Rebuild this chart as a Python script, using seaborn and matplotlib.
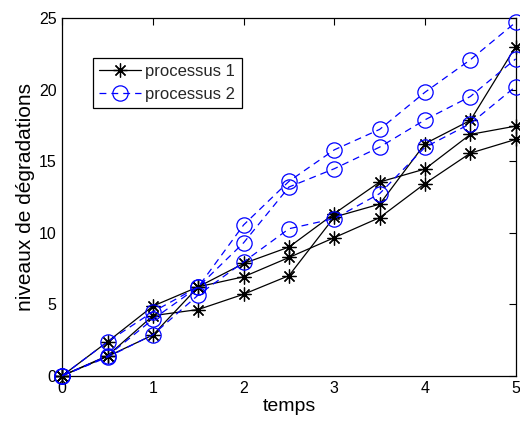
import numpy as np
import pandas as pd
import matplotlib
matplotlib.use("Agg")
import matplotlib.pyplot as plt
import seaborn as sns
from matplotlib.lines import Line2D

# ---- data ----
temps = [0, 0.5, 1, 1.5, 2, 2.5, 3, 3.5, 4, 4.5, 5]

proc1_a = [0, 1.40, 4.20, 4.63, 5.70, 7.00, 11.10, 12.00, 16.23, 17.86, 23.02]
proc1_b = [0, 2.38, 4.87, 6.22, 7.85, 9.00, 11.34, 13.55, 14.46, 16.88, 17.46]
proc1_c = [0, 1.35, 2.85, 6.22, 6.92, 8.27, 9.66, 11.06, 13.44, 15.57, 16.53]

proc2_a = [0, 2.38, 4.47, 6.22, 10.55, 13.60, 15.80, 17.23, 19.83, 22.10, 24.72]
proc2_b = [0, 1.38, 3.95, 6.22, 9.30, 13.20, 14.48, 15.99, 17.90, 19.53, 22.16]
proc2_c = [0, 1.30, 2.87, 5.65, 7.96, 10.28, 10.99, 12.74, 15.98, 17.63, 20.23]

series_names = ["processus 1", "processus 2"]
xticks = [0, 1, 2, 3, 4, 5]
yticks = [0, 5, 10, 15, 20, 25]

sns.set_theme(style="white")
plt.rcParams['font.family'] = ['Liberation Sans', 'DejaVu Sans']

fig = plt.figure(figsize=(5.2, 4.21), dpi=100)
ax = fig.add_axes([0.1198, 0.1076, 0.8719, 0.8489])

star = (8, 2, 0)
blue = (0, 0, 1)

p1_style = dict(color="black", marker=star, markersize=10, markeredgewidth=0.9,
                markeredgecolor="black", linewidth=0.9, linestyle="-")
p2_style = dict(color=blue, marker="o", markersize=11, markerfacecolor="none",
                markeredgecolor=blue, markeredgewidth=0.9, linewidth=0.9,
                linestyle=(0, (5.5, 4.0)))

for ys in [proc1_a, proc1_b, proc1_c]:
    df = pd.DataFrame({"t": temps, "v": ys})
    sns.lineplot(data=df, x="t", y="v", ax=ax, sort=False, legend=False,
                 clip_on=False, zorder=3, **p1_style)
for ys in [proc2_a, proc2_b, proc2_c]:
    df = pd.DataFrame({"t": temps, "v": ys})
    sns.lineplot(data=df, x="t", y="v", ax=ax, sort=False, legend=False,
                 clip_on=False, zorder=3, **p2_style)

ax.set_xlim(0, 5)
ax.set_ylim(0, 25)
ax.set_xticks(xticks)
ax.set_yticks(yticks)
ax.set_xticklabels([str(v) for v in xticks])
ax.set_yticklabels([str(v) for v in yticks])
ax.tick_params(direction="in", length=5, width=0.8, top=True, right=True,
               labelsize=11.5, colors="black", pad=4)
for s in ax.spines.values():
    s.set_color("black")
    s.set_linewidth(0.9)
ax.grid(False)
ax.set_xlabel("temps", fontsize=14, color="black", labelpad=1)
ax.set_ylabel("niveaux de dégradations", fontsize=15, color="black", labelpad=3)

handles = [Line2D([], [], **p1_style), Line2D([], [], **p2_style)]
leg = ax.legend(handles, series_names, loc="upper left",
                bbox_to_anchor=(0.067, 0.89), fontsize=12, frameon=True,
                fancybox=False, edgecolor="black", framealpha=1,
                handlelength=2.5, borderpad=0.4, labelspacing=0.45,
                handletextpad=0.25, borderaxespad=0)
leg.get_frame().set_linewidth(0.9)

fig.savefig("out.png", dpi=100)
